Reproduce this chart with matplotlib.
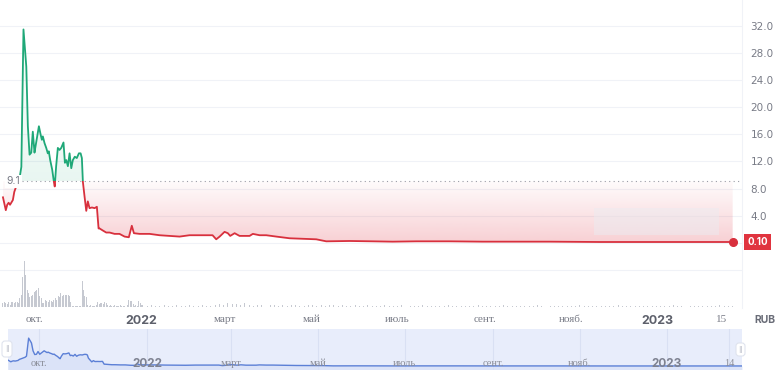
import numpy as np
import matplotlib
matplotlib.use('Agg')
import matplotlib.pyplot as plt
from matplotlib.patches import Rectangle, FancyBboxPatch
from matplotlib.lines import Line2D
from matplotlib.transforms import IdentityTransform

# price, x = days from 2022-01-01
price_days = [-98, -96, -95, -94, -93, -91, -90, -86, -85, -83.5, -81.5, -80.4, -79.2, -78,
              -76.9, -75.7, -75, -73.8, -72.6, -71.4, -70.5, -69.8, -68.6, -67.4, -66.3, -65.6,
              -64.6, -63.2, -62, -61.4, -60.4, -59.2, -58, -56.8, -55.2, -54.2, -53.2, -52.1,
              -50.9, -49.7, -48.6, -47.2, -45.8, -44.3, -43.1, -42.2, -41.5, -40.3, -39.1, -38,
              -36.8, -35.1, -33.2, -31.6, -30.4, -29.7, -27.4, -25, -22.6, -19.1, -15.6, -12,
              -9, -6.9, -5.4, -1.4, 5.7, 12.7, 19.8, 26.9, 33.9, 43.1, 50.2, 52.8, 55.2, 58.7,
              61, 62.7, 65.8, 69.3, 76.4, 78.7, 83.5, 88.2, 95.3, 104.7, 123.5, 130.6, 147.1,
              163.4, 177.5, 194.3, 217.8, 241.2, 253.2, 288.5, 323.9, 359.3, 394.6, 418]
price_vals = [6.7, 4.8, 5.6, 5.9, 5.6, 6.3, 7.5, 9.9, 11.2, 31.5, 26.0, 17.2, 13.0, 13.3,
              16.4, 13.3, 14.2, 15.7, 17.2, 16.0, 15.2, 15.7, 14.7, 14.0, 13.2, 13.5,
              12.2, 10.8, 9.0, 8.3, 11.3, 14.0, 13.7, 14.0, 14.8, 11.8, 12.2, 11.3,
              13.2, 11.0, 12.2, 12.7, 12.5, 13.2, 13.2, 12.5, 9.0, 6.8, 4.7, 6.1,
              5.1, 5.2, 5.1, 5.3, 2.1, 2.1, 1.8, 1.5, 1.5, 1.3, 1.3, 0.9,
              0.8, 2.5, 1.4, 1.3, 1.3, 1.1, 1.0, 0.9, 1.1, 1.1, 1.1, 0.5, 0.9, 1.6,
              1.4, 1.0, 1.4, 1.0, 1.0, 1.3, 1.1, 1.1, 0.9, 0.65, 0.5, 0.2, 0.25,
              0.2, 0.15, 0.2, 0.2, 0.15, 0.15, 0.15, 0.1, 0.1, 0.1, 0.1]
base_level = 9.1
last_price = 0.10

# volume (arbitrary units)
vol_days_early = np.arange(-98, 1)
vol_early = [4, 5, 4, 3, 5, 2, 5, 5, 4, 5, 5, 4, 9,
             12, 30, 46, 32, 17, 14, 10, 11, 12, 15, 16, 17, 19, 11, 9,
             4, 4, 7, 6, 5, 7, 6, 5, 7, 9, 7, 11, 10, 14, 11, 12, 12, 12, 12, 11, 5, 1,
             1, 1, 1, 1, 1, 1,
             26, 17, 11, 10, 2,
             1, 2, 1, 1, 1,
             2, 5, 3, 4, 4, 3, 5, 4,
             2, 1, 2, 1, 1, 2, 1, 1, 1,
             2, 1, 1, 1, 1,
             2, 7, 6, 6, 3, 1, 2, 1, 6, 4, 2]
vol_days_late = np.arange(1, 419, 3)
vol_late = [2, 1, 2, 1, 1, 2, 1, 1, 2, 1, 1, 2, 1, 1, 2, 1, 1, 2, 3, 2,
            4, 3, 3, 2, 4, 2, 1, 2, 2, 1, 2, 2, 1, 2, 1, 2, 2, 1, 1, 2,
            2, 1, 2, 1, 2, 2, 1, 2, 1, 1, 2, 1, 1, 2, 1, 1, 1, 2, 1, 1,
            1, 2, 1, 1, 1, 1, 2, 1, 1, 1, 1, 1, 2, 1, 1, 1, 1, 1, 1, 2,
            1, 1, 1, 1, 1, 2, 1, 1, 1, 1, 1, 1, 1, 2, 1, 1, 1, 1, 1, 1,
            1, 1, 1, 2, 1, 1, 1, 1, 1, 1, 1, 1, 2, 1, 1, 1, 1, 1, 1, 1,
            1, 1, 1, 1, 1, 2, 1, 1, 1, 1, 1, 1, 1, 1, 1, 1, 2, 1, 1, 1]

tick_days = [-76, 0, 59, 120, 181, 243, 304, 365, 410]
tick_labels = ['окт.', '2022', 'март', 'май', 'июль', 'сент.', 'нояб.', '2023', '15']
nav_tick_days = [-76, 0, 59, 120, 181, 243, 304, 365, 409]
nav_tick_labels = ['окт.', '2022', 'март', 'май', 'июль', 'сент.', 'нояб.', '2023', '14']
years = ('2022', '2023')

green = '#1fa878'
red = '#d8303d'
grid_c = '#f0f2f7'
text_c = '#787b86'

W, H = 775, 370
fig = plt.figure(figsize=(W / 100, H / 100), dpi=100)


def box(x0, y0, x1, y1):
    return [x0 / W, 1 - y1 / H, (x1 - x0) / W, (y1 - y0) / H]


x = np.array(price_days, dtype=float)
y = np.array(price_vals)
xlim = (-100.1, 424.6)

# --- main price panel ---
ax = fig.add_axes(box(0, 0, 742, 255))
for v in range(0, 33, 4):
    ax.axhline(v, color=grid_c, lw=0.8, zorder=0)

poly = ax.fill_between(x, y, base_level, color='none', lw=0)
clip = poly.get_paths()[0]
n = 256
red_grad = np.zeros((n, 1, 4))
red_grad[..., :3] = matplotlib.colors.to_rgb('#e23a4a')
red_grad[:, 0, 3] = np.linspace(0.24, 0.02, n)
im = ax.imshow(red_grad, extent=[x[0], x[-1], 0, base_level], origin='lower',
               aspect='auto', zorder=1)
im.set_clip_path(clip, transform=ax.transData)
green_grad = np.zeros((n, 1, 4))
green_grad[..., :3] = matplotlib.colors.to_rgb(green)
green_grad[:, 0, 3] = np.linspace(0.10, 0.0, n)
im2 = ax.imshow(green_grad, extent=[x[0], x[-1], base_level, 32], origin='lower',
                aspect='auto', zorder=1)
im2.set_clip_path(clip, transform=ax.transData)

# faint watermark block
ax.add_patch(Rectangle((320, 1.1), 88, 4.0, fc='#ecebf0', ec='none', alpha=0.5, zorder=1))

ax.axhline(base_level, xmin=0.03, xmax=1, color='#9a9ca6', lw=0.8, ls=(0, (1, 3)), zorder=2)

up, = ax.plot(x, y, color=green, lw=1.3, zorder=3)
up.set_clip_path(Rectangle((-300, base_level), 1000, 100, transform=ax.transData))
dn, = ax.plot(x, y, color=red, lw=1.3, zorder=3)
dn.set_clip_path(Rectangle((-300, -100), 1000, 100 + base_level, transform=ax.transData))
ax.plot(x[-1], y[-1], 'o', color=red, ms=5.5, zorder=4)

ax.text(-95.5, base_level, '9.1', color=text_c, fontsize=7.5, va='center', ha='left',
        family='Inter', zorder=5,
        bbox=dict(boxstyle='square,pad=0.15', fc='white', ec='none'))

ax.set_xlim(*xlim)
ax.set_ylim(-1.82, 35.85)
ax.yaxis.tick_right()
ax.set_yticks(range(4, 33, 4), [f'{v:.1f}' for v in range(4, 33, 4)])
ax.tick_params(axis='y', length=0, pad=6, labelsize=7.5, labelcolor=text_c)
ax.set_xticks([])
for s in ax.spines.values():
    s.set_visible(False)

fig.text(757.5 / W, 1 - 242 / H, f'{last_price:.2f}', color='white', fontsize=7,
         weight='bold', ha='center', va='center', family='Inter',
         bbox=dict(boxstyle='square,pad=0.35', fc='#e0343f', ec='none'))

# --- volume panel ---
axv = fig.add_axes(box(0, 255, 742, 308))
axv.axhline(37, color=grid_c, lw=0.8, zorder=0)
axv.bar(vol_days_early, vol_early, width=0.7, color='#c6c9d1', zorder=2)
axv.bar(vol_days_late, vol_late, width=0.7, color='#c6c9d1', zorder=2)
axv.set_xlim(*xlim)
axv.set_ylim(-1, 52)
axv.set_yticks([])
axv.set_xticks(tick_days, tick_labels)
axv.tick_params(axis='x', length=0, pad=5)
for lab in axv.get_xticklabels():
    if lab.get_text() in years:
        lab.set(family='Inter', weight='bold', fontsize=9, color='#5d606b')
    else:
        lab.set(family='Liberation Serif', fontsize=8, color=text_c)
for s in axv.spines.values():
    s.set_visible(False)

fig.add_artist(Line2D([742 / W, 742 / W], [1 - 308 / H, 1], color=grid_c, lw=0.8))
fig.text(765 / W, 1 - 320 / H, 'RUB', ha='center', va='center', weight='bold',
         fontsize=7.5, color='#6a6d78', family='Inter')

# --- navigator ---
axn = fig.add_axes(box(8, 329, 742, 372))
axn.set_facecolor('#e8edfb')
for d in nav_tick_days:
    axn.axvline(d, color='#d9e0f3', lw=0.8, zorder=0)
axn.fill_between(x, y, -7, color='#d6e0f8', alpha=0.7, lw=0, zorder=1)
axn.plot(x, y, color='#5b7fd6', lw=1.0, zorder=2)
for d, lab in zip(nav_tick_days, nav_tick_labels):
    if lab in years:
        axn.text(d, 2.6, lab, ha='center', va='center', family='Inter', weight='bold',
                 fontsize=8.5, color='#7e8291', zorder=3)
    else:
        axn.text(d, 2.6, lab, ha='center', va='center', family='Liberation Serif',
                 fontsize=7.5, color='#8a8d98', zorder=3)
axn.set_xlim(-98, 418)
axn.set_ylim(-6.7, 41.8)
axn.set_xticks([])
axn.set_yticks([])
for s in axn.spines.values():
    s.set_visible(False)

# range handles
for hx0, hx1, hy0, hy1 in [(2, 12, 341, 357), (736, 745, 343, 356)]:
    fig.add_artist(FancyBboxPatch((hx0, H - hy1), hx1 - hx0, hy1 - hy0,
                                  boxstyle='round,pad=0,rounding_size=3',
                                  fc='white', ec='#dfe3ee', lw=0.8,
                                  transform=IdentityTransform()))
    fig.text((hx0 + hx1) / 2 / W, 1 - (hy0 + hy1) / 2 / H, '||', ha='center', va='center',
             fontsize=5, color='#b4b8c4')

fig.savefig('out.png', dpi=100)
